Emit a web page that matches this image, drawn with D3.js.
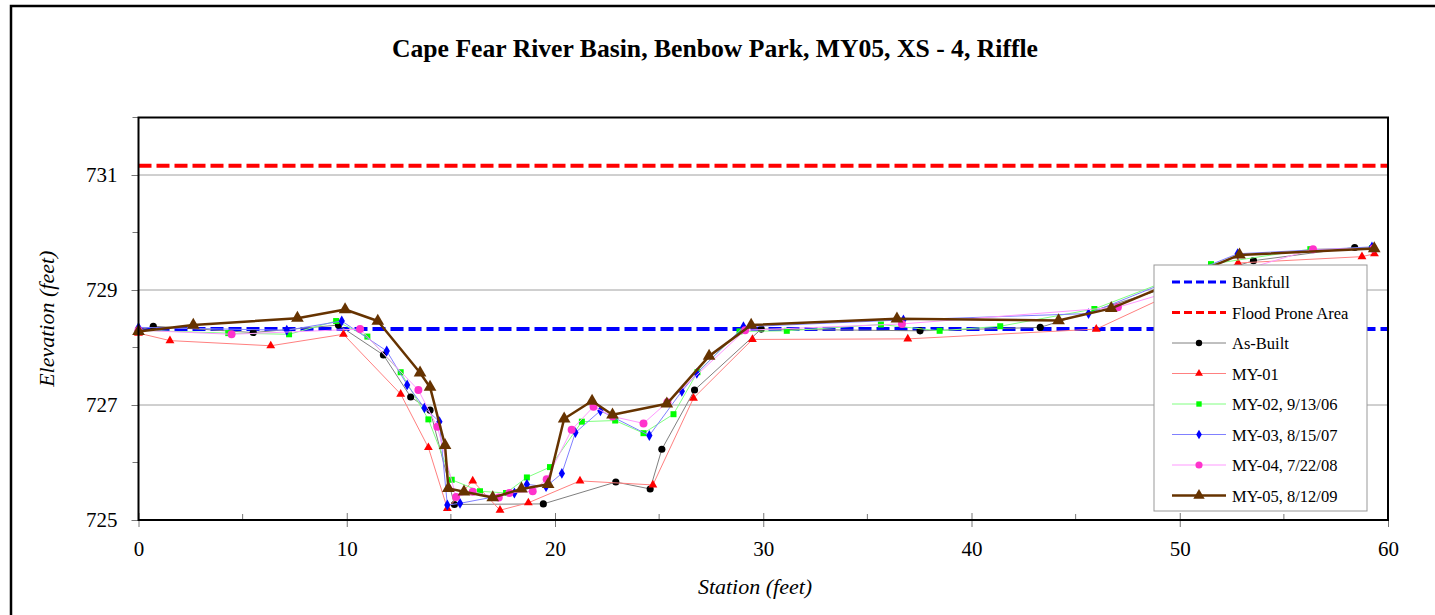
<!DOCTYPE html>
<html>
<head>
<meta charset="utf-8">
<script src="https://cdn.jsdelivr.net/npm/d3@7"></script>
<style>
  html, body { margin: 0; padding: 0; background: #fff; }
  svg { display: block; }
  svg text { font-family: "Liberation Serif", "Times New Roman", serif; }
</style>
</head>
<body>
<svg id="chart" width="1435" height="615"></svg>
<script>
// Cross-section survey: station (ft) vs elevation (ft)
const chartTitle = "Cape Fear River Basin, Benbow Park, MY05, XS - 4, Riffle";
const xTicks = [0, 10, 20, 30, 40, 50, 60];
const yTicks = [725, 727, 729, 731];

const bankfullElev = 728.32;
const floodProneElev = 731.16;

const asBuiltStation = [0, 0.71, 5.51, 9.6, 11.76, 13.07, 14.0, 15.17, 19.44, 22.92, 24.57, 25.13, 26.7, 29.9, 37.53, 43.3, 53.54, 58.4, 59.23];
const asBuiltElev    = [728.3, 728.37, 728.26, 728.39, 727.87, 727.14, 726.91, 725.27, 725.28, 725.66, 725.54, 726.23, 727.26, 728.32, 728.29, 728.35, 729.51, 729.74, 729.72];

const my01Station = [0, 1.51, 6.35, 9.84, 12.59, 13.92, 14.83, 16.05, 17.36, 18.72, 21.2, 24.7, 26.65, 29.48, 36.94, 45.99, 52.8, 58.75, 59.35];
const my01Elev    = [728.25, 728.12, 728.03, 728.23, 727.19, 726.26, 725.2, 725.68, 725.17, 725.3, 725.68, 725.61, 727.12, 728.14, 728.15, 728.32, 729.47, 729.58, 729.63];

const my02Station = [0, 4.31, 7.23, 9.49, 10.99, 12.59, 13.92, 15.04, 16.4, 17.65, 18.65, 19.76, 21.29, 22.89, 24.25, 25.69, 26.84, 28.86, 31.13, 35.65, 38.47, 41.38, 45.9, 51.5, 56.27, 59.23];
const my02Elev    = [728.3, 728.25, 728.23, 728.46, 728.19, 727.57, 726.75, 725.7, 725.5, 725.47, 725.74, 725.92, 726.71, 726.73, 726.51, 726.84, 727.57, 728.28, 728.29, 728.4, 728.29, 728.37, 728.67, 729.45, 729.71, 729.73];

const my03Station = [0, 7.12, 9.76, 11.92, 12.9, 13.73, 14.45, 14.83, 15.44, 18.05, 18.65, 19.57, 20.33, 20.98, 22.18, 24.53, 26.09, 26.81, 29.05, 36.73, 45.62, 52.78, 59.23];
const my03Elev    = [728.35, 728.3, 728.46, 727.94, 727.35, 726.95, 726.71, 725.26, 725.29, 725.47, 725.62, 725.58, 725.81, 726.52, 726.9, 726.47, 727.24, 727.55, 728.36, 728.48, 728.59, 729.63, 729.75];

const my04Station = [0, 4.47, 10.64, 13.44, 14.35, 15.25, 16.05, 17.3, 17.81, 18.93, 19.6, 20.8, 21.85, 22.77, 24.25, 25.4, 29.13, 36.66, 47.03, 56.4, 59.3];
const my04Elev    = [728.3, 728.23, 728.32, 727.26, 726.62, 725.4, 725.49, 725.39, 725.47, 725.5, 725.71, 726.57, 726.97, 726.8, 726.68, 727.05, 728.3, 728.41, 728.7, 729.71, 729.72];

const my05Station = [0, 2.63, 7.63, 9.92, 11.49, 13.52, 14.0, 14.72, 14.88, 15.63, 17.01, 18.39, 19.67, 20.44, 21.78, 22.76, 25.37, 27.4, 29.42, 36.42, 44.18, 46.71, 52.87, 59.34];
const my05Elev    = [728.28, 728.39, 728.51, 728.66, 728.46, 727.56, 727.31, 726.3, 725.55, 725.49, 725.39, 725.54, 725.62, 726.76, 727.07, 726.83, 727.02, 727.85, 728.39, 728.5, 728.47, 728.68, 729.61, 729.72];

const series = [
  { name: "As-Built",         st: asBuiltStation, el: asBuiltElev, line: "#808080", mark: "#000000", lw: 1,   shape: "circle",   size: 40 },
  { name: "MY-01",            st: my01Station,    el: my01Elev,    line: "#ff8080", mark: "#ff0000", lw: 1,   shape: "triangle", size: 34 },
  { name: "MY-02, 9/13/06",   st: my02Station,    el: my02Elev,    line: "#80ff80", mark: "#00ff00", lw: 1,   shape: "square",   size: 36 },
  { name: "MY-03, 8/15/07",   st: my03Station,    el: my03Elev,    line: "#8080ff", mark: "#0000ff", lw: 1,   shape: "diamond",  size: 34 },
  { name: "MY-04, 7/22/08",   st: my04Station,    el: my04Elev,    line: "#ff99ff", mark: "#ff33cc", lw: 1,   shape: "circle",   size: 50 },
  { name: "MY-05, 8/12/09",   st: my05Station,    el: my05Elev,    line: "#663300", mark: "#663300", lw: 2.5, shape: "triangle", size: 70 }
];

const serif = "Liberation Serif";
const svg = d3.select("#chart");

// outer chart frame (right and bottom edges run past the page)
svg.append("rect").attr("x", 11).attr("y", 6).attr("width", 1430).attr("height", 640)
  .attr("fill", "none").attr("stroke", "#000").attr("stroke-width", 2.5);

const x = d3.scaleLinear().domain([0, 60]).range([138.5, 1388]);
const y = d3.scaleLinear().domain([725, 732]).range([520, 117.5]);

// title
svg.append("text").attr("x", 715).attr("y", 57).attr("text-anchor", "middle")
  .attr("font-family", serif).attr("font-weight", "bold").attr("font-size", 26)
  .attr("textLength", 646).attr("lengthAdjust", "spacingAndGlyphs").text(chartTitle);

// gridlines
svg.append("g").selectAll("line").data(yTicks.filter(v => v > 725)).join("line")
  .attr("x1", x(0)).attr("x2", x(60)).attr("y1", d => y(d)).attr("y2", d => y(d))
  .attr("stroke", "#a0a0a0").attr("stroke-width", 1);

// axes
const xAxis = d3.axisBottom(x).tickValues(xTicks).tickSize(7).tickPadding(14).tickFormat(d3.format("d"));
const gx = svg.append("g").attr("transform", `translate(0,${y(725)})`).call(xAxis);
gx.select(".domain").remove();
gx.selectAll(".tick line").attr("y1", -7).attr("stroke", "#777");
gx.selectAll("text").attr("font-size", 21).attr("font-family", serif).attr("fill", "#000");
svg.append("g").selectAll("line").data([5, 15, 25, 35, 45, 55]).join("line")
  .attr("x1", d => x(d)).attr("x2", d => x(d)).attr("y1", y(725) - 6).attr("y2", y(725))
  .attr("stroke", "#777");

const yAxis = d3.axisLeft(y).tickValues(yTicks).tickSize(7).tickPadding(14).tickFormat(d3.format("d"));
const gy = svg.append("g").attr("transform", `translate(${x(0)},0)`).call(yAxis);
gy.select(".domain").remove();
gy.selectAll(".tick line").attr("stroke", "#777");
gy.selectAll("text").attr("font-size", 21).attr("font-family", serif).attr("fill", "#000");
svg.append("g").selectAll("line").data([726, 728, 730, 732]).join("line")
  .attr("x1", x(0) - 6).attr("x2", x(0)).attr("y1", d => y(d)).attr("y2", d => y(d))
  .attr("stroke", "#777");

// axis titles
svg.append("text").attr("x", 755).attr("y", 594).attr("text-anchor", "middle")
  .attr("font-family", serif).attr("font-style", "italic").attr("font-size", 22).text("Station (feet)");
svg.append("text").attr("transform", `translate(54,${(y(725) + y(732)) / 2}) rotate(-90)`)
  .attr("text-anchor", "middle").attr("font-family", serif).attr("font-style", "italic")
  .attr("font-size", 22).text("Elevation (feet)");

// reference elevations
const refs = [
  { name: "Bankfull", v: bankfullElev, color: "#0000ff" },
  { name: "Flood Prone Area", v: floodProneElev, color: "#ff0000" }
];
svg.append("g").selectAll("line").data(refs).join("line")
  .attr("x1", x(0)).attr("x2", x(60)).attr("y1", d => y(d.v)).attr("y2", d => y(d.v))
  .attr("stroke", d => d.color).attr("stroke-width", 4).attr("stroke-dasharray", "13,5");

// survey lines
const line = d3.line().x(d => x(d[0])).y(d => y(d[1]));
const symType = { circle: d3.symbolCircle, triangle: d3.symbolTriangle, square: d3.symbolSquare, diamond: d3.symbolDiamond };

series.forEach(s => {
  const pts = s.st.map((v, i) => [v, s.el[i]]);
  svg.append("path").datum(pts).attr("d", line)
    .attr("fill", "none").attr("stroke", s.line).attr("stroke-width", s.lw).attr("stroke-linejoin", "round");
  svg.append("g").selectAll("path").data(pts).join("path")
    .attr("transform", d => `translate(${x(d[0])},${y(d[1])})`)
    .attr("d", d3.symbol().type(symType[s.shape]).size(s.size))
    .attr("fill", s.mark);
});

// plot border
svg.append("rect").attr("x", x(0)).attr("y", y(732)).attr("width", x(60) - x(0)).attr("height", y(725) - y(732))
  .attr("fill", "none").attr("stroke", "#000").attr("stroke-width", 2);

// legend
const lg = svg.append("g").attr("transform", "translate(1154,265)");
lg.append("rect").attr("width", 213).attr("height", 246).attr("fill", "#fff").attr("stroke", "#999").attr("stroke-width", 1);
const legendItems = refs.map(r => ({ name: r.name, dash: true, line: r.color }))
  .concat(series.map(s => ({ name: s.name, dash: false, line: s.line, mark: s.mark, lw: s.lw, shape: s.shape, size: s.size })));
legendItems.forEach((it, i) => {
  const cy = 17 + i * 30.5;
  lg.append("line").attr("x1", 18).attr("x2", 72).attr("y1", cy).attr("y2", cy)
    .attr("stroke", it.line).attr("stroke-width", it.dash ? 3 : it.lw)
    .attr("stroke-dasharray", it.dash ? "8,4" : null);
  if (!it.dash) {
    lg.append("path").attr("transform", `translate(45,${cy})`)
      .attr("d", d3.symbol().type(symType[it.shape]).size(it.size * 0.8)).attr("fill", it.mark);
  }
  lg.append("text").attr("x", 78).attr("y", cy + 6).attr("font-family", serif)
    .attr("font-size", 16.5).text(it.name);
});
</script>
</body>
</html>
